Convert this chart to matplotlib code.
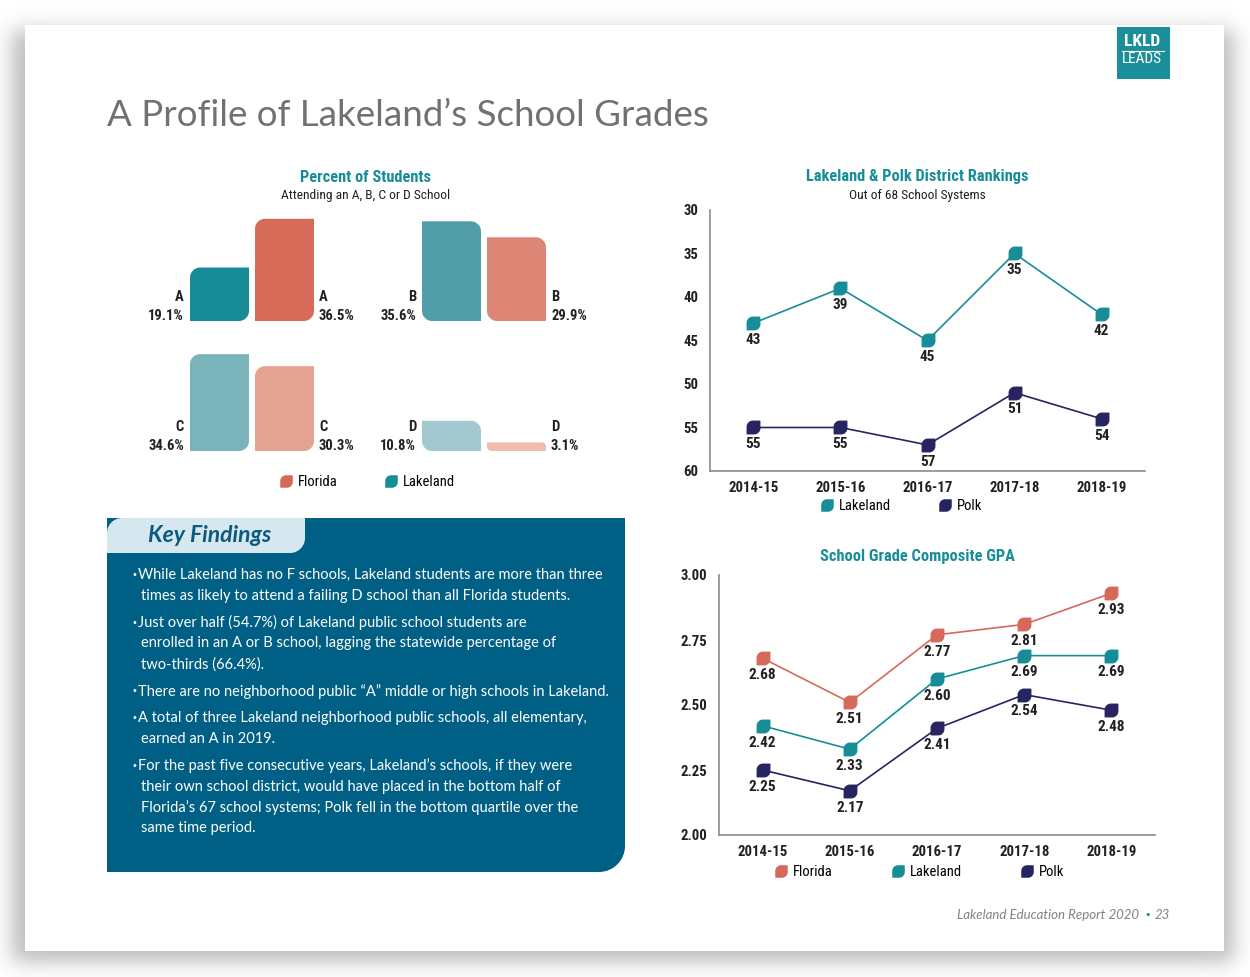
import numpy as np
import matplotlib.pyplot as plt
from matplotlib.path import Path
from matplotlib.patches import PathPatch, Rectangle
from matplotlib.lines import Line2D

W, H = 1250, 977

# ---- data ----
grades = ['A', 'B', 'C', 'D']
lakeland_pct = [19.1, 35.6, 34.6, 10.8]
florida_pct = [36.5, 29.9, 30.3, 3.1]

years = ['2014-15', '2015-16', '2016-17', '2017-18', '2018-19']
rank_lakeland = [43, 39, 45, 35, 42]
rank_polk = [55, 55, 57, 51, 54]
rank_ticks = [30, 35, 40, 45, 50, 55, 60]

gpa_florida = [2.68, 2.51, 2.77, 2.81, 2.93]
gpa_lakeland = [2.42, 2.33, 2.60, 2.69, 2.69]
gpa_polk = [2.25, 2.17, 2.41, 2.54, 2.48]
gpa_ticks = [2.00, 2.25, 2.50, 2.75, 3.00]

findings = [
    ["While Lakeland has no F schools, Lakeland students are more than three",
     "times as likely to attend a failing D school than all Florida students."],
    ["Just over half (54.7%) of Lakeland public school students are",
     "enrolled in an A or B school, lagging the statewide percentage of",
     "two-thirds (66.4%)."],
    ["There are no neighborhood public \u201cA\u201d middle or high schools in Lakeland."],
    ["A total of three Lakeland neighborhood public schools, all elementary,",
     "earned an A in 2019."],
    ["For the past five consecutive years, Lakeland\u2019s schools, if they were",
     "their own school district, would have placed in the bottom half of",
     "Florida\u2019s 67 school systems; Polk fell in the bottom quartile over the",
     "same time period."],
]

# ---- style ----
TEAL = '#178d97'
SALMON = '#d66a5a'
NAVY = '#262461'
lake_cols = ['#178c96', '#519ea8', '#7bb3ba', '#a3c8cf']
flo_cols = ['#d76b5a', '#de8676', '#e4a290', '#efbdb0']
COND = ['Roboto Condensed', 'Liberation Sans Narrow', 'DejaVu Sans']
CS = 'condensed'
BODY = ['Lato', 'DejaVu Sans']
INK = '#231f20'


def rounded_path(x0, x1, yb, yt, rx, ry, rounded):
    """box with some corners rounded: names 'bl','br','tr','tl'"""
    pts = [(x0, yb), (x1, yb), (x1, yt), (x0, yt)]
    names = ['bl', 'br', 'tr', 'tl']
    k = 0.5523

    def toward(p, q):
        if q[0] != p[0]:
            return (p[0] + np.sign(q[0] - p[0]) * rx, p[1])
        return (p[0], p[1] + np.sign(q[1] - p[1]) * ry)

    verts, codes = [], []
    for i, (p, n) in enumerate(zip(pts, names)):
        prev, nxt = pts[i - 1], pts[(i + 1) % 4]
        if n in rounded:
            a, b = toward(p, prev), toward(p, nxt)
            c1 = (a[0] + (p[0] - a[0]) * k, a[1] + (p[1] - a[1]) * k)
            c2 = (b[0] + (p[0] - b[0]) * k, b[1] + (p[1] - b[1]) * k)
            verts += [a, c1, c2, b]
            codes += [Path.LINETO, Path.CURVE4, Path.CURVE4, Path.CURVE4]
        else:
            verts.append(p)
            codes.append(Path.LINETO)
    codes[0] = Path.MOVETO
    verts.append(verts[0])
    codes.append(Path.CLOSEPOLY)
    return Path(verts, codes)


leaf = rounded_path(-1, 1, -1, 1, 0.9, 0.9, {'tl', 'br'})


def px_axes(x0, y0, x1, y1):
    return fig.add_axes([x0 / W, 1 - y1 / H, (x1 - x0) / W, (y1 - y0) / H])


fig = plt.figure(figsize=(W / 100, H / 100), dpi=100, facecolor='white')

# background / page
bg = fig.add_axes([0, 0, 1, 1])
bg.axis('off')
xs = np.arange(W) + 0.5
ys = np.arange(H) + 0.5


def soft(v, a, b, s):
    return 1 / (1 + np.exp(-(v - a) / s)) - 1 / (1 + np.exp(-(v - b) / s))


sh = np.outer(soft(ys, 30, 962, 6), soft(xs, 12, 1234, 6))
rgba = np.zeros((H, W, 4))
rgba[..., :3] = 0.35
rgba[..., 3] = sh * 0.4
bg.imshow(rgba, extent=(0, W, H, 0), zorder=0, aspect='auto')
bg.set_xlim(0, W)
bg.set_ylim(H, 0)
bg.add_patch(Rectangle((25, 25), 1199, 926, facecolor='white', edgecolor='none', zorder=1))

# logo
bg.add_patch(Rectangle((1117, 27), 53, 52, facecolor='#1a8f9a', edgecolor='none', zorder=2))
bg.text(1142, 42, 'LKLD', color='white', fontsize=12.5, fontweight='bold', ha='center', va='center',
        family=COND, fontstretch=CS, zorder=3)
bg.plot([1122, 1164], [51, 51], color='white', lw=0.8, zorder=3)
bg.text(1142, 59, 'LEADS', color='white', fontsize=11, ha='center', va='center', family=COND,
        fontstretch=CS, zorder=3)

# page title
bg.text(107, 126, 'A Profile of Lakeland\u2019s School Grades', color='#707174', fontsize=26.5,
        family=BODY, ha='left', va='baseline', zorder=3)

# footer
bg.text(1139, 915, 'Lakeland Education Report 2020', color='#808285', fontsize=9.5, style='italic',
        family=BODY, ha='right', va='center', zorder=3)
bg.text(1148, 915, '\u2022', color=TEAL, fontsize=8, ha='center', va='center', zorder=3)
bg.text(1170, 915, '23', color='#808285', fontsize=9.5, style='italic', family=BODY,
        ha='right', va='center', zorder=3)

# key findings box
bg.add_patch(PathPatch(rounded_path(107, 625, 872, 518, 26, 26, {'br'}),
                       facecolor='#005f84', edgecolor='none', zorder=2))
bg.add_patch(PathPatch(rounded_path(107, 305, 553, 518, 15, 15, {'tl', 'br'}),
                       facecolor='#d6e7f0', edgecolor='none', zorder=3))
bg.text(148, 535, 'Key Findings', color='#0b5b7e', fontsize=16.5, style='italic', fontweight='bold',
        family=BODY, ha='left', va='center', zorder=4)
y = 575
for item in findings:
    for j, line in enumerate(item):
        if j == 0:
            bg.text(134, y, '\u2022', color='white', fontsize=7, ha='center', va='center', zorder=4)
            bg.text(138, y, line, color='white', fontsize=10.5, family=BODY, ha='left', va='center', zorder=4)
        else:
            bg.text(141, y, line, color='white', fontsize=10.5, family=BODY, ha='left', va='center', zorder=4)
        y += 20.7
    y += 6.3

# ---- bar charts: percent of students ----
bg.text(366, 177, 'Percent of Students', color=TEAL, fontsize=11.8, fontweight='bold', family=COND,
        fontstretch=CS, ha='center', va='center', zorder=3)
bg.text(366, 196, 'Attending an A, B, C or D School', color=INK, fontsize=9.7, family=COND,
        fontstretch=CS, ha='center', va='center', zorder=3)

PXPCT = 2.8
rows = []
for base in (321, 451):
    ax = px_axes(140, base - 40 * PXPCT, 600, base)
    ax.set_xlim(0, 460)
    ax.set_ylim(0, 40)
    ax.axis('off')
    ax.patch.set_alpha(0)
    rows.append(ax)

BW = 59
for i, g in enumerate(grades):
    ax = rows[i // 2]
    c = i % 2
    corners = {'tl', 'br'} if c == 0 else {'tr', 'bl'}
    for val, col, x0, side in ((lakeland_pct[i], lake_cols[i], 50 + 232 * c, 'left'),
                               (florida_pct[i], flo_cols[i], 115 + 232 * c, 'right')):
        r = min(10, val * PXPCT / 2)
        ax.add_patch(PathPatch(rounded_path(x0, x0 + BW, 0, val, r, r / PXPCT, corners),
                               facecolor=col, edgecolor='none'))
        if side == 'left':
            lx, ha = x0 - 6, 'right'
        else:
            lx, ha = x0 + BW + 5, 'left'
        ax.annotate(g, (lx, 0), xytext=(0, 17.5), textcoords='offset points', ha=ha, va='center',
                    fontsize=10.5, fontweight='bold', family=COND, fontstretch=CS, color=INK)
        ax.annotate(f'{val:.1f}%', (lx, 0), xytext=(0, 3.8), textcoords='offset points', ha=ha,
                    va='center', fontsize=10.5, fontweight='bold', family=COND, fontstretch=CS,
                    color=INK)

LEG = {'family': COND, 'size': 10.5, 'stretch': CS}
bar_handles = [Line2D([], [], ls='', marker=leaf, ms=8, color=SALMON, label='Florida'),
               Line2D([], [], ls='', marker=leaf, ms=8, color=TEAL, label='Lakeland')]
fig.legend(handles=bar_handles, loc='center', bbox_to_anchor=(367 / W, 1 - 482 / H), ncol=2,
           frameon=False, handletextpad=0.3, columnspacing=3.2, handlelength=1, prop=LEG)


def style_line_axes(ax):
    ax.patch.set_alpha(0)
    for s in ('top', 'right'):
        ax.spines[s].set_visible(False)
    for s in ('left', 'bottom'):
        ax.spines[s].set_color('#8c8c8c')
        ax.spines[s].set_linewidth(1.2)
    ax.tick_params(length=0, labelsize=10.6, labelcolor=INK)
    ax.tick_params(axis='y', pad=8.5)
    ax.tick_params(axis='x', pad=7)
    for lab in ax.get_xticklabels() + ax.get_yticklabels():
        lab.set_family(COND)
        lab.set_fontstretch(CS)
        lab.set_fontweight('bold')


def label_points(ax, xs_, vals, fmt):
    for x, v in zip(xs_, vals):
        ax.annotate(fmt.format(v), (x, v), xytext=(0, -7), textcoords='offset points', ha='center',
                    va='top', fontsize=11, fontweight='bold', family=COND, fontstretch=CS, color=INK)


# ---- district rankings ----
bg.text(917, 177, 'Lakeland & Polk District Rankings', color=TEAL, fontsize=11.8, fontweight='bold',
        family=COND, fontstretch=CS, ha='center', va='center', zorder=3)
bg.text(917, 196, 'Out of 68 School Systems', color=INK, fontsize=9.7, family=COND, fontstretch=CS,
        ha='center', va='center', zorder=3)

ax1 = px_axes(710, 210, 1145, 471)
x = np.arange(len(years))
ax1.plot(x, rank_lakeland, color=TEAL, lw=1.2, marker=leaf, ms=9, label='Lakeland')
ax1.plot(x, rank_polk, color=NAVY, lw=1.2, marker=leaf, ms=9, label='Polk')
ax1.set_ylim(60, 30)
ax1.set_xlim(-0.5, 4.5)
ax1.set_yticks(rank_ticks)
ax1.set_xticks(x, years)
style_line_axes(ax1)
label_points(ax1, x, rank_lakeland, '{:d}')
label_points(ax1, x, rank_polk, '{:d}')
fig.legend(handles=[Line2D([], [], ls='', marker=leaf, ms=8, color=TEAL, label='Lakeland'),
                    Line2D([], [], ls='', marker=leaf, ms=8, color=NAVY, label='Polk')],
           loc='center', bbox_to_anchor=(901 / W, 1 - 506 / H), ncol=2, frameon=False,
           handletextpad=0.3, columnspacing=3.2, handlelength=1, prop=LEG)

# ---- composite GPA ----
bg.text(917, 556, 'School Grade Composite GPA', color=TEAL, fontsize=11.8, fontweight='bold',
        family=COND, fontstretch=CS, ha='center', va='center', zorder=3)
ax2 = px_axes(719, 575, 1155, 835)
ax2.plot(x, gpa_florida, color=SALMON, lw=1.2, marker=leaf, ms=9)
ax2.plot(x, gpa_lakeland, color=TEAL, lw=1.2, marker=leaf, ms=9)
ax2.plot(x, gpa_polk, color=NAVY, lw=1.2, marker=leaf, ms=9)
ax2.set_ylim(2.0, 3.0)
ax2.set_xlim(-0.5, 4.5)
ax2.set_yticks(gpa_ticks, [f'{t:.2f}' for t in gpa_ticks])
ax2.set_xticks(x, years)
style_line_axes(ax2)
for vals in (gpa_florida, gpa_lakeland, gpa_polk):
    label_points(ax2, x, vals, '{:.2f}')
fig.legend(handles=[Line2D([], [], ls='', marker=leaf, ms=8, color=SALMON, label='Florida'),
                    Line2D([], [], ls='', marker=leaf, ms=8, color=TEAL, label='Lakeland'),
                    Line2D([], [], ls='', marker=leaf, ms=8, color=NAVY, label='Polk')],
           loc='center', bbox_to_anchor=(919 / W, 1 - 872 / H), ncol=3, frameon=False,
           handletextpad=0.3, columnspacing=4, handlelength=1, prop=LEG)

fig.savefig('out.png', dpi=100, facecolor='white')
